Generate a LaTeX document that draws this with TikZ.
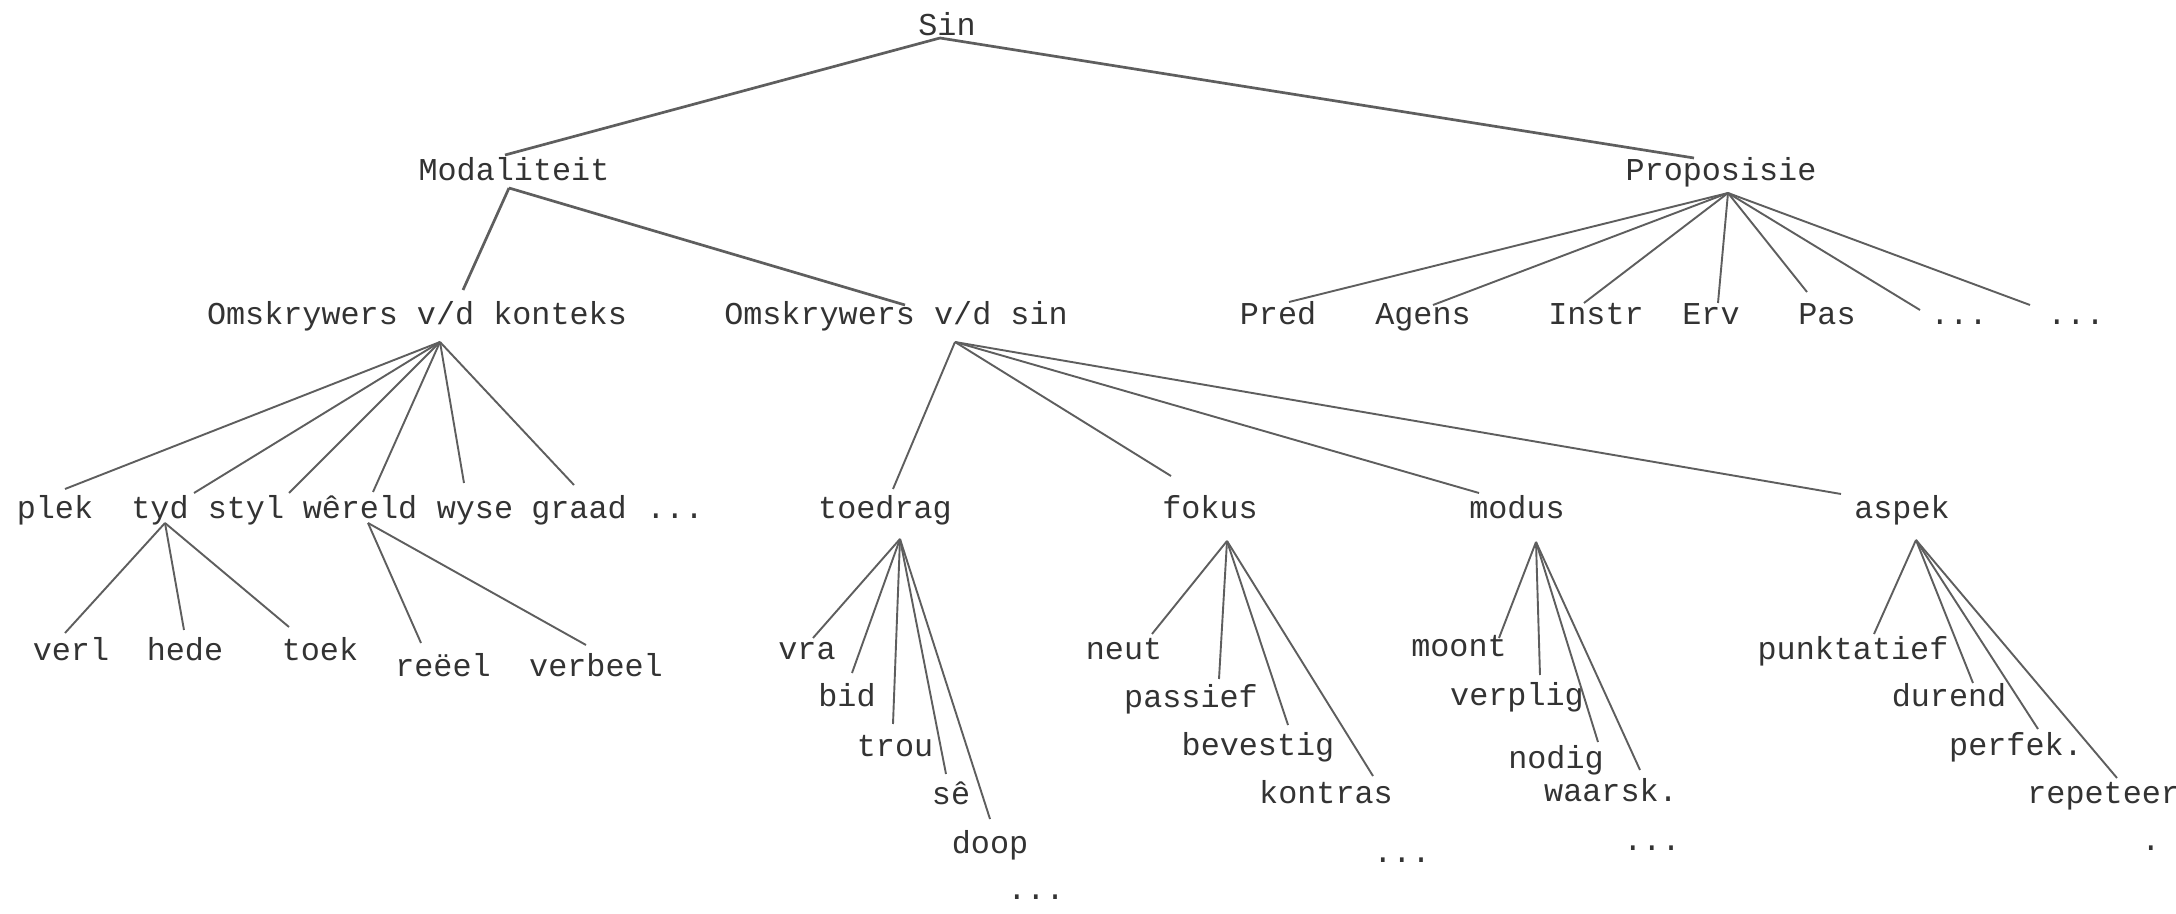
\documentclass[tikz,border=0pt]{standalone}
\usepackage{fontspec}
\newfontfamily\tw{Liberation Mono}
\definecolor{txt}{HTML}{333333}
\definecolor{ln}{HTML}{5E5E5E}
\tikzset{
 lbl/.style={font=\tw\fontsize{15.9}{18}\selectfont, text=txt, inner sep=0pt, anchor=base},
 lblw/.style={lbl, anchor=base west},
 br/.style={draw=ln, line width=0.95pt},
 brt/.style={draw=ln, line width=1.35pt},
}
\begin{document}
\begin{tikzpicture}[x=0.5pt,y=-0.5pt]
\useasboundingbox[fill=white] (0,0) rectangle (2176,914);
% ---- nodes ----
\node[lbl] (Sin) at (947,36) {Sin};
\node[lbl] (Mod) at (514,181) {Modaliteit};
\node[lbl] (Prop) at (1721,181) {Proposisie};
\node[lbl] (OK) at (417,325) {Omskrywers v/d konteks};
\node[lbl] (OS) at (896,325) {Omskrywers v/d sin};
\node[lbl] (Pred) at (1278,325) {Pred};
\node[lbl] (Agens) at (1423,325) {Agens};
\node[lbl] (Instr) at (1596,325) {Instr};
\node[lbl] (Erv) at (1711,325) {Erv};
\node[lbl] (Pas) at (1827,325) {Pas};
\node[lbl] (PD1) at (1959,325) {...};
\node[lbl] (PD2) at (2076,325) {...};
\node[lbl] (plek) at (55,519) {plek};
\node[lbl] (tyd) at (160,519) {tyd};
\node[lbl] (styl) at (246,519) {styl};
\node[lbl] (wereld) at (360,519) {wêreld};
\node[lbl] (wyse) at (475,519) {wyse};
\node[lbl] (graad) at (579,519) {graad};
\node[lbl] (KD) at (675,519) {...};
\node[lbl] (toedrag) at (885,519) {toedrag};
\node[lbl] (fokus) at (1210,519) {fokus};
\node[lbl] (modus) at (1517,519) {modus};
\node[lbl] (aspek) at (1902,519) {aspek};
\node[lbl] (verl) at (71,661) {verl};
\node[lbl] (hede) at (185,661) {hede};
\node[lbl] (toek) at (320,661) {toek};
\node[lbl] (reeel) at (443,676) {reëel};
\node[lbl] (verbeel) at (596,676) {verbeel};
\node[lbl] (vra) at (807,660) {vra};
\node[lbl] (bid) at (847,706) {bid};
\node[lbl] (trou) at (895,756) {trou};
\node[lbl] (se) at (951,805) {sê};
\node[lbl] (doop) at (990,853) {doop};
\node[lbl] (TD) at (1036,899) {...};
\node[lbl] (neut) at (1124,660) {neut};
\node[lbl] (passief) at (1191,708) {passief};
\node[lbl] (bevestig) at (1258,755) {bevestig};
\node[lbl] (kontras) at (1326,803) {kontras};
\node[lbl] (FD) at (1402,862) {...};
\node[lbl] (moont) at (1459,657) {moont};
\node[lbl] (verplig) at (1517,705) {verplig};
\node[lbl] (nodig) at (1556,769) {nodig};
\node[lbl] (waarsk) at (1611,801) {waarsk.};
\node[lbl] (MD) at (1652,850) {...};
\node[lbl] (punkt) at (1853,660) {punktatief};
\node[lbl] (durend) at (1949,706) {durend};
\node[lbl] (perfek) at (2016,755) {perfek.};
\node[lblw] (repet) at (2027,803) {repeteer};
\node[lbl] (AD) at (2151,850) {.};
% ---- hubs (branch points below parents) ----
\coordinate (Sin-h) at (940,38);
\coordinate (Mod-h) at (509,188);
\coordinate (Prop-h) at (1728,193);
\coordinate (OK-h) at (440,342);
\coordinate (OS-h) at (955,342);
\coordinate (tyd-h) at (165,523);
\coordinate (wereld-h) at (368,523);
\coordinate (toedrag-h) at (900,539);
\coordinate (fokus-h) at (1227,541);
\coordinate (modus-h) at (1536,542);
\coordinate (aspek-h) at (1916,540);
% ---- entry points above children ----
\coordinate (Mod-in) at (505,155);
\coordinate (Prop-in) at (1694,158);
\coordinate (OK-in) at (463,290);
\coordinate (OS-in) at (905,305);
\coordinate (Pred-in) at (1289,302);
\coordinate (Agens-in) at (1433,305);
\coordinate (Instr-in) at (1584,303);
\coordinate (Erv-in) at (1718,303);
\coordinate (Pas-in) at (1807,292);
\coordinate (PD1-in) at (1920,310);
\coordinate (PD2-in) at (2030,305);
\coordinate (plek-in) at (65,489);
\coordinate (tyd-in) at (194,493);
\coordinate (styl-in) at (289,493);
\coordinate (wereld-in) at (373,492);
\coordinate (wyse-in) at (464,483);
\coordinate (graad-in) at (574,485);
\coordinate (verl-in) at (65,633);
\coordinate (hede-in) at (184,630);
\coordinate (toek-in) at (289,627);
\coordinate (reeel-in) at (421,643);
\coordinate (verbeel-in) at (586,645);
\coordinate (toedrag-in) at (893,489);
\coordinate (fokus-in) at (1171,476);
\coordinate (modus-in) at (1479,493);
\coordinate (aspek-in) at (1841,494);
\coordinate (vra-in) at (813,638);
\coordinate (bid-in) at (852,673);
\coordinate (trou-in) at (893,724);
\coordinate (se-in) at (946,774);
\coordinate (doop-in) at (990,819);
\coordinate (neut-in) at (1152,634);
\coordinate (passief-in) at (1219,679);
\coordinate (bevestig-in) at (1288,725);
\coordinate (kontras-in) at (1373,776);
\coordinate (moont-in) at (1499,638);
\coordinate (verplig-in) at (1540,675);
\coordinate (nodig-in) at (1598,742);
\coordinate (waarsk-in) at (1640,770);
\coordinate (punkt-in) at (1874,634);
\coordinate (durend-in) at (1973,683);
\coordinate (perfek-in) at (2038,729);
\coordinate (repet-in) at (2117,778);
% ---- connectors ----
\foreach \p/\c in {Sin/Mod, Sin/Prop, Mod/OK, Mod/OS}
  \draw[brt] (\p-h) -- (\c-in);
\foreach \p/\c in {Prop/Pred, Prop/Agens, Prop/Instr, Prop/Erv, Prop/Pas, Prop/PD1, Prop/PD2,
  OK/plek, OK/tyd, OK/styl, OK/wereld, OK/wyse, OK/graad,
  OS/toedrag, OS/fokus, OS/modus, OS/aspek,
  tyd/verl, tyd/hede, tyd/toek, wereld/reeel, wereld/verbeel,
  toedrag/vra, toedrag/bid, toedrag/trou, toedrag/se, toedrag/doop,
  fokus/neut, fokus/passief, fokus/bevestig, fokus/kontras,
  modus/moont, modus/verplig, modus/nodig, modus/waarsk,
  aspek/punkt, aspek/durend, aspek/perfek, aspek/repet}
  \draw[br] (\p-h) -- (\c-in);
\end{tikzpicture}
\end{document}
